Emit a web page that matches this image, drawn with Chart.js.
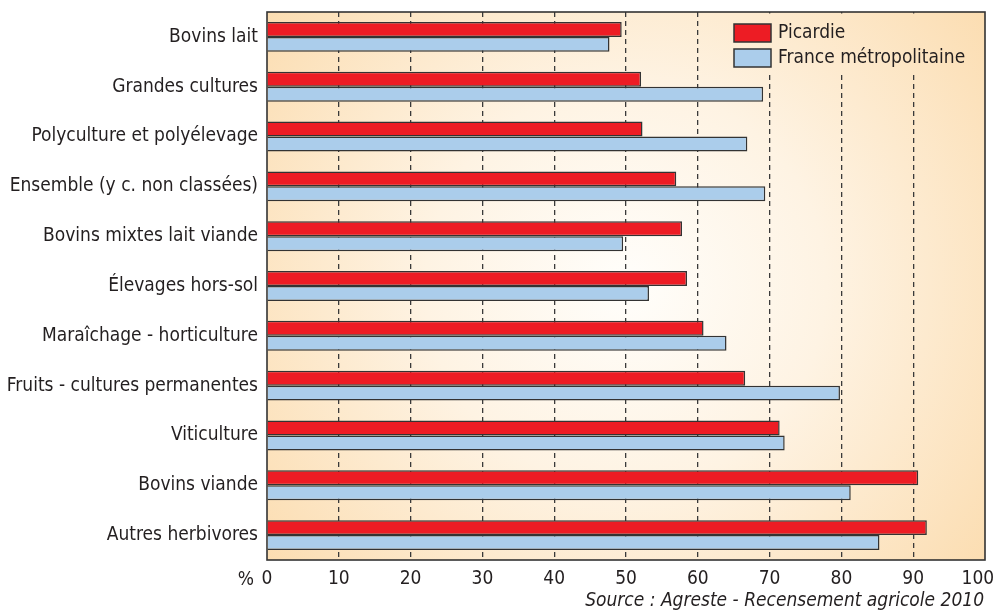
<!DOCTYPE html>
<html>
<head>
<meta charset="utf-8">
<title>Picardie - orientations</title>
<style>
body { margin: 0; background: #ffffff; }
#wrap { width: 996px; height: 611px; }
</style>
<script src="https://cdn.jsdelivr.net/npm/chart.js@4.4.1/dist/chart.umd.min.js"></script>
</head>
<body>
<div id="wrap"><canvas id="chartDiv" width="996" height="611"></canvas></div>

<script>
// categories, top to bottom
var categories = ["Bovins lait", "Grandes cultures", "Polyculture et polyélevage",
  "Ensemble (y c. non classées)", "Bovins mixtes lait viande", "Élevages hors-sol",
  "Maraîchage - horticulture", "Fruits - cultures permanentes", "Viticulture",
  "Bovins viande", "Autres herbivores"];
var picardie = [49.4, 52.1, 52.3, 57.0, 57.8, 58.5, 60.8, 66.6, 71.4, 90.7, 91.9];
var france   = [47.7, 69.1, 66.9, 69.4, 49.6, 53.2, 64.0, 79.8, 72.1, 81.3, 85.3];
var seriesNames = ["Picardie", "France métropolitaine"];
var xTicks = [0, 10, 20, 30, 40, 50, 60, 70, 80, 90, 100];
var unitLabel = "%";
var sourceText = "Source : Agreste - Recensement agricole 2010";

var FONT = '"Liberation Sans Narrow", "DejaVu Sans Condensed", "Arial Narrow", sans-serif';
var RED = "#ed1c24", BLUE = "#abcdeb", EDGE = "#333333", TXT = "#231f20";

function makeGradient(ctx, area) {
  var cx = area.left + (area.right - area.left) * 0.5;
  var cy = area.top + (area.bottom - area.top) * 0.5;
  var g = ctx.createRadialGradient(cx, cy, 0, cx, cy, 500);
  g.addColorStop(0, "#fffefb");
  g.addColorStop(0.4, "#fef3e3");
  g.addColorStop(1, "#fbd9a8");
  return g;
}

// background, frame, legend and footnotes
var decor = {
  id: "decor",
  beforeDraw: function(chart) {
    var ctx = chart.ctx, a = chart.chartArea;
    ctx.save();
    ctx.fillStyle = makeGradient(ctx, a);
    ctx.fillRect(a.left, a.top, a.right - a.left, a.bottom - a.top);
    ctx.restore();
  },
  beforeDatasetsDraw: function(chart) {
    var ctx = chart.ctx, a = chart.chartArea;
    ctx.save();
    // legend sits on an opaque patch of the same background
    ctx.fillStyle = makeGradient(ctx, a);
    ctx.fillRect(726, a.top + 1.5, 252, 60);
    ctx.strokeStyle = EDGE;
    ctx.lineWidth = 1.6;
    ctx.strokeRect(a.left, a.top, a.right - a.left, a.bottom - a.top);
    ctx.restore();
  },
  afterDraw: function(chart) {
    var ctx = chart.ctx;
    var cols = [RED, BLUE];
    ctx.save();
    ctx.font = "19px " + FONT;
    ctx.textBaseline = "middle";
    ctx.textAlign = "left";
    for (var i = 0; i < seriesNames.length; i++) {
      var y = 24 + i * 25;
      ctx.fillStyle = cols[i];
      ctx.fillRect(734, y, 37, 18);
      ctx.strokeStyle = EDGE;
      ctx.lineWidth = 1.5;
      ctx.strokeRect(734, y, 37, 18);
      ctx.fillStyle = TXT;
      ctx.fillText(seriesNames[i], 778, y + 9);
    }
    // unit on the axis
    ctx.textAlign = "right";
    ctx.fillText(unitLabel, 254, 580);
    // source
    ctx.font = "italic 19px " + FONT;
    ctx.fillText(sourceText, 984, 601);
    ctx.restore();
  }
};

new Chart("chartDiv", {
  type: "bar",
  data: {
    labels: categories,
    datasets: [{
      label: seriesNames[0],
      data: picardie,
      backgroundColor: RED,
      borderColor: EDGE,
      borderWidth: 1.5,
      barPercentage: 1,
      categoryPercentage: 0.6
    }, {
      label: seriesNames[1],
      data: france,
      backgroundColor: BLUE,
      borderColor: EDGE,
      borderWidth: 1.5,
      barPercentage: 1,
      categoryPercentage: 0.6
    }]
  },
  options: {
    indexAxis: "y",
    responsive: false,
    animation: false,
    layout: { padding: { top: 12, right: 11, bottom: 0, left: 0 } },
    plugins: {
      legend: { display: false },
      tooltip: { enabled: false }
    },
    scales: {
      x: {
        min: 0,
        max: 100,
        afterBuildTicks: function(scale) {
          scale.ticks = xTicks.map(function(v) { return { value: v }; });
        },
        afterFit: function(scale) {
          scale.height = 51;
          scale.paddingLeft = 0;
          scale.paddingRight = 0;
        },
        border: { display: false, dash: [5, 4] },
        grid: {
          drawTicks: false,
          color: function(c) {
            var v = c.tick ? c.tick.value : 0;
            return (v === 0 || v === 100) ? "rgba(0,0,0,0)" : "#3a3a3a";
          },
          lineWidth: 1.3
        },
        ticks: {
          padding: 8,
          color: TXT,
          font: { family: FONT, size: 19 },
          // last label nudged left so it stays inside the page
          callback: function(v) { return v === 100 ? "100\u2007\u2009" : String(v); }
        }
      },
      y: {
        afterFit: function(scale) {
          scale.width = 267;
          scale.paddingTop = 0;
          scale.paddingBottom = 0;
        },
        border: { display: false },
        grid: { display: false, drawTicks: false },
        ticks: {
          padding: 9,
          color: TXT,
          font: { family: FONT, size: 19 }
        }
      }
    }
  },
  plugins: [decor]
});
</script>
</body>
</html>
